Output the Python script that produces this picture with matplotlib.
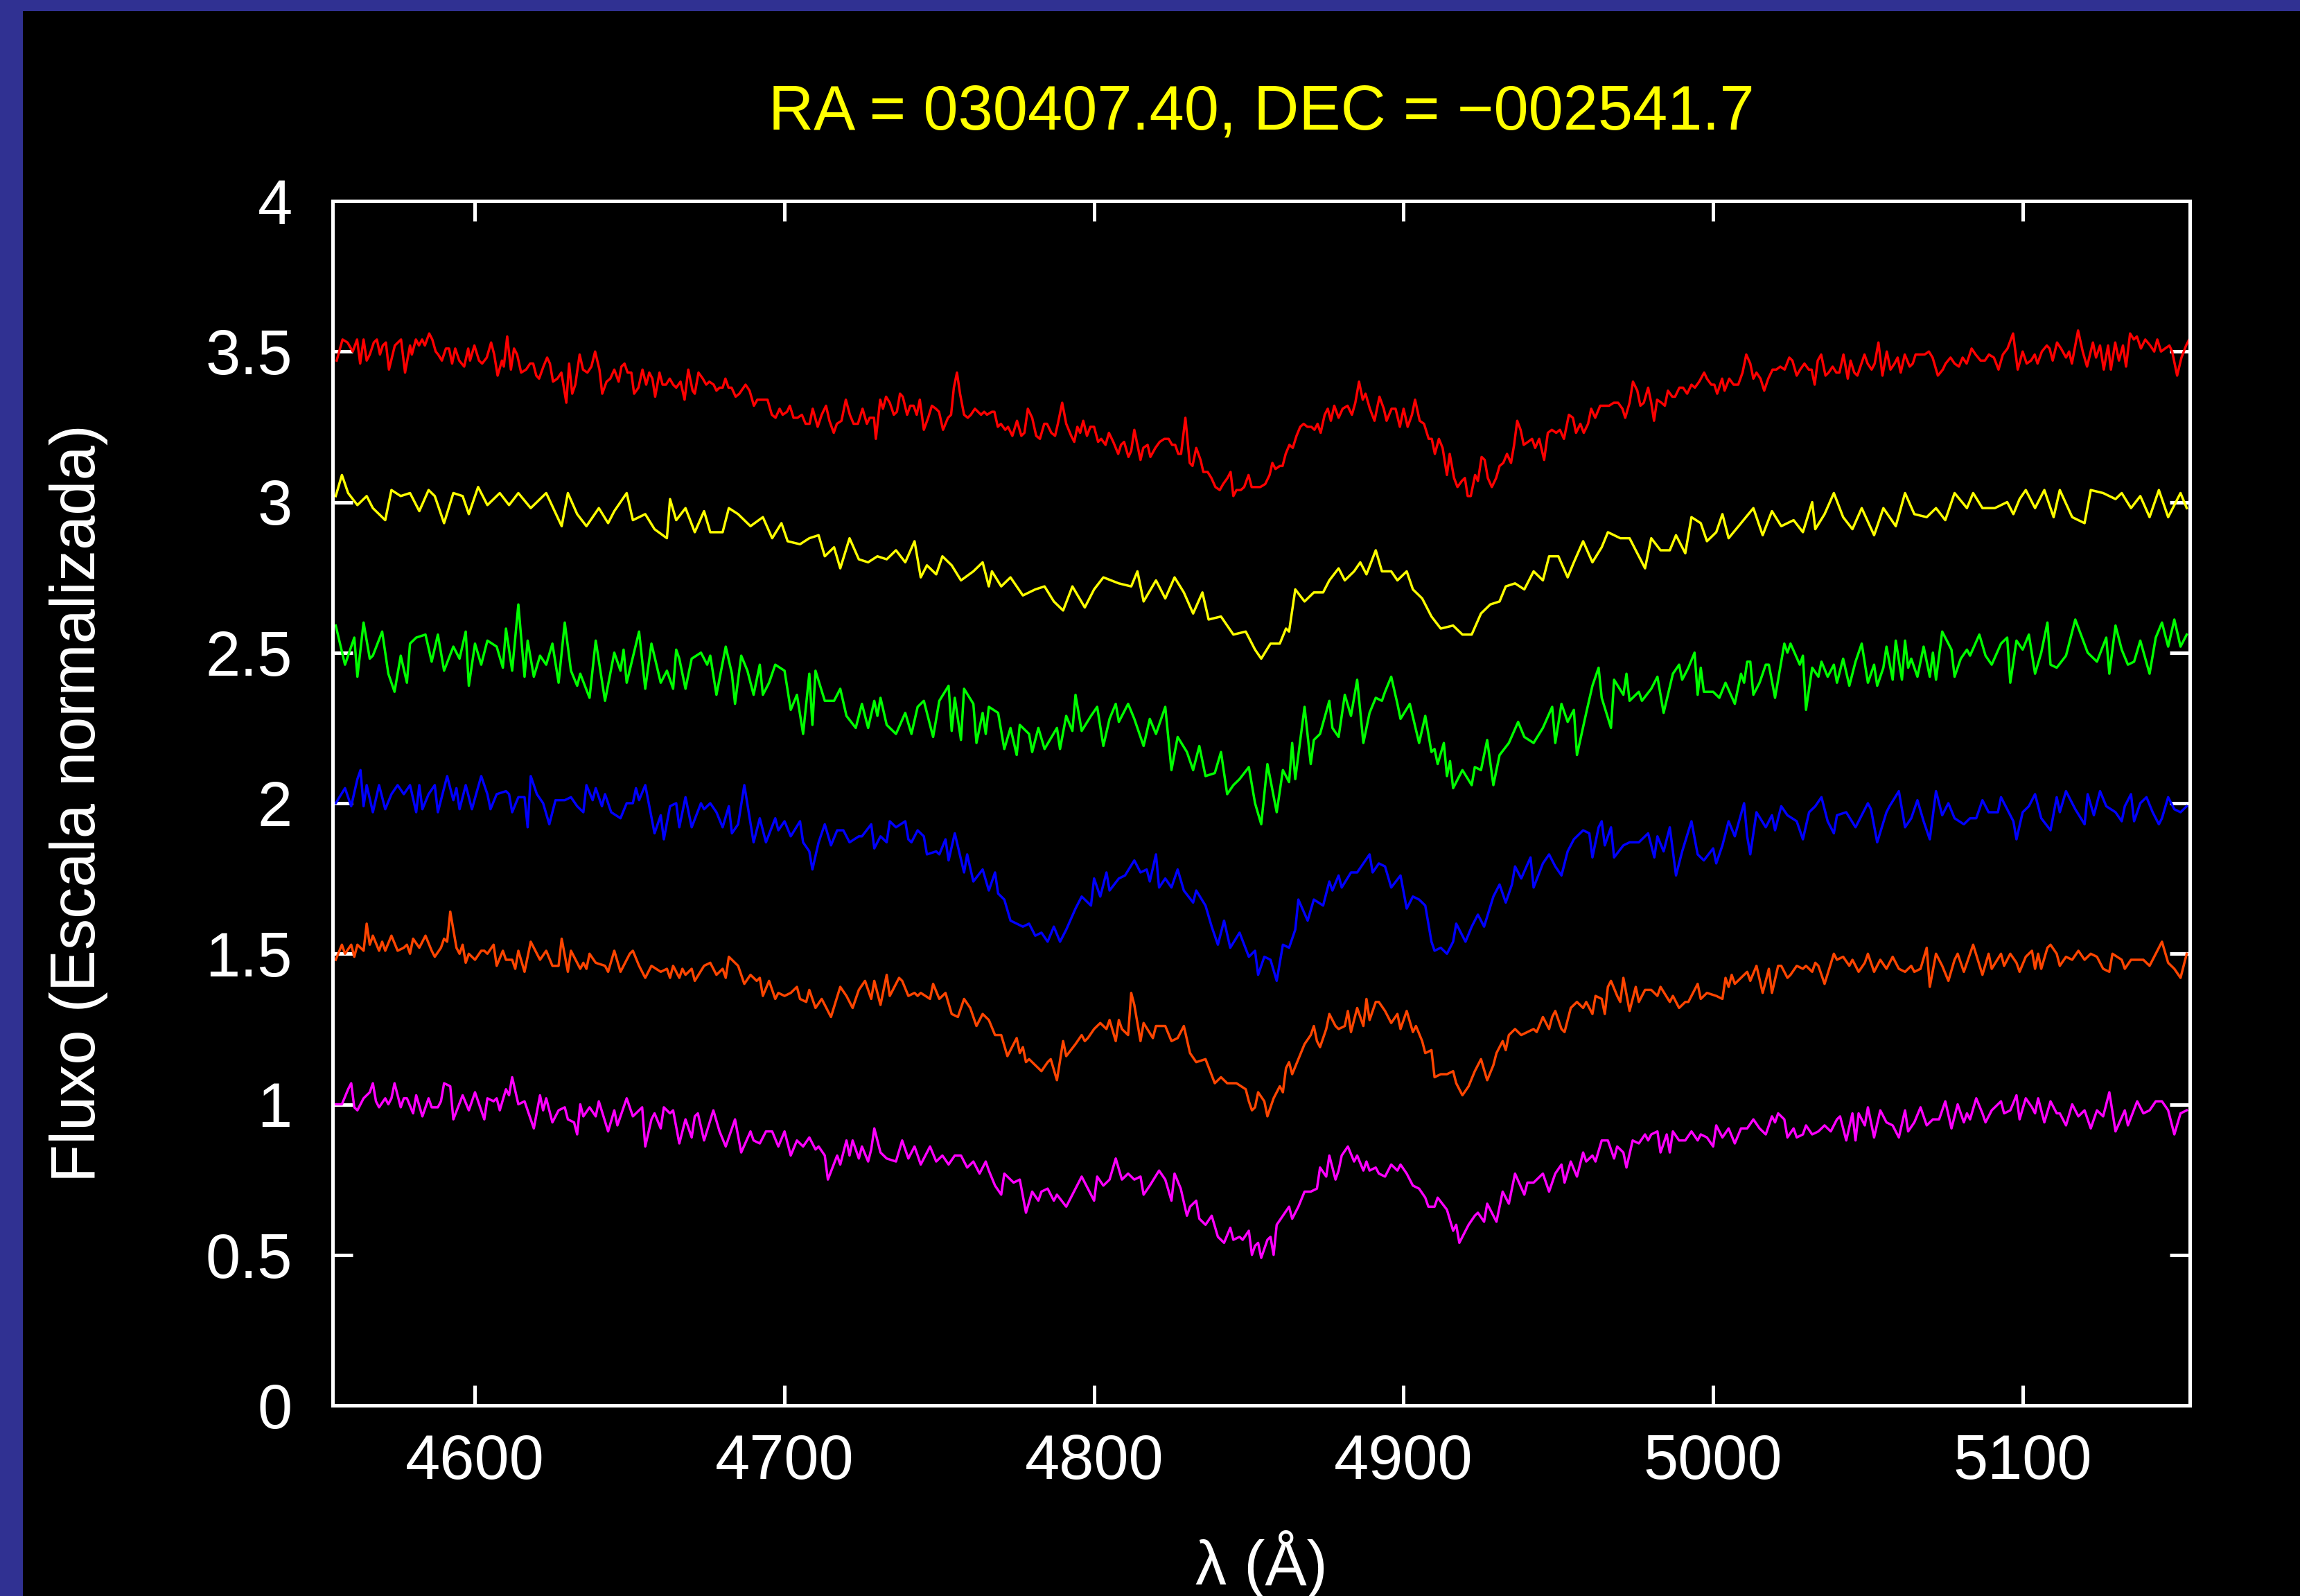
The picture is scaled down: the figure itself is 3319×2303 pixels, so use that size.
import matplotlib
matplotlib.use("Agg")
import matplotlib.pyplot as plt
from matplotlib.patches import Rectangle
from matplotlib.ticker import FormatStrFormatter, MultipleLocator

plt.rcParams['font.family'] = ['Liberation Sans', 'DejaVu Sans']

# === spectra: (wavelength [A], normalised flux) ===
red_pts = [
    (4555.3,3.47),(4557.2,3.54),(4558.8,3.53),(4560.5,3.50),(4561.9,3.54),(4562.9,3.46),(4564.0,3.54),(4565.0,3.47),
    (4566.0,3.49),(4567.3,3.53),(4568.3,3.54),(4569.3,3.49),(4570.2,3.52),(4571.2,3.53),(4572.2,3.44),(4574.1,3.52),
    (4576.1,3.54),(4577.4,3.43),(4579.0,3.52),(4579.6,3.49),(4580.9,3.54),(4581.9,3.52),(4582.9,3.54),(4583.8,3.52),
    (4585.2,3.56),(4586.2,3.54),(4587.3,3.50),(4588.1,3.49),(4589.3,3.47),(4590.6,3.51),(4591.6,3.51),(4592.6,3.46),
    (4593.6,3.51),(4594.9,3.47),(4596.5,3.45),(4597.8,3.51),(4598.4,3.47),(4599.8,3.52),(4601.3,3.47),(4602.3,3.46),
    (4603.8,3.48),(4605.2,3.53),(4606.2,3.49),(4607.3,3.42),(4608.7,3.47),(4609.3,3.45),(4610.4,3.55),(4611.6,3.44),
    (4612.6,3.51),(4613.6,3.49),(4614.9,3.43),(4616.5,3.44),(4617.8,3.46),(4618.8,3.46),(4619.8,3.42),(4620.7,3.41),
    (4622.1,3.45),(4623.3,3.48),(4624.2,3.46),(4625.2,3.40),(4626.6,3.41),(4627.9,3.43),(4629.5,3.33),(4630.4,3.46),
    (4631.4,3.36),(4632.4,3.39),(4633.8,3.49),(4634.9,3.44),(4636.3,3.43),(4637.6,3.45),(4638.8,3.50),(4640.2,3.44),
    (4641.1,3.36),(4642.5,3.40),(4643.7,3.41),(4645.0,3.44),(4646.4,3.40),(4647.3,3.45),(4648.3,3.46),(4649.3,3.43),
    (4650.5,3.43),(4651.4,3.36),(4652.8,3.38),(4654.1,3.44),(4655.3,3.39),(4656.3,3.43),(4657.3,3.41),(4658.2,3.35),
    (4659.6,3.43),(4660.6,3.39),(4661.7,3.39),(4662.9,3.41),(4664.0,3.39),(4665.0,3.38),(4666.4,3.40),(4667.7,3.34),
    (4668.9,3.44),(4670.3,3.37),(4671.0,3.36),(4672.2,3.43),(4673.6,3.41),(4674.7,3.39),(4675.7,3.40),(4677.1,3.39),
    (4678.0,3.37),(4679.0,3.38),(4680.0,3.38),(4680.9,3.41),(4681.9,3.38),(4682.9,3.38),(4684.2,3.35),(4685.4,3.36),
    (4687.4,3.39),(4688.7,3.37),(4690.1,3.32),(4691.2,3.34),(4692.6,3.34),(4694.5,3.34),(4695.9,3.29),(4697.1,3.28),
    (4698.4,3.31),(4699.4,3.29),(4700.8,3.30),(4701.7,3.32),(4702.9,3.28),(4704.2,3.28),(4705.6,3.29),(4706.8,3.26),
    (4708.1,3.26),(4709.1,3.31),(4710.7,3.25),(4712.0,3.29),(4713.4,3.32),(4714.5,3.27),(4715.9,3.23),(4716.9,3.26),
    (4718.4,3.27),(4719.8,3.34),(4721.1,3.29),(4722.3,3.26),(4723.7,3.26),(4725.2,3.31),(4726.6,3.26),(4727.5,3.28),
    (4728.9,3.28),(4729.5,3.21),(4730.9,3.34),(4731.8,3.31),(4732.8,3.35),(4734.0,3.33),(4735.3,3.29),(4736.3,3.30),
    (4737.3,3.36),(4738.2,3.35),(4739.6,3.29),(4740.6,3.32),(4741.7,3.32),(4742.7,3.29),(4743.7,3.34),(4745.0,3.24),
    (4746.4,3.28),(4747.6,3.32),(4748.9,3.31),(4749.9,3.30),(4751.2,3.24),(4752.8,3.28),(4753.8,3.29),(4754.7,3.38),
    (4755.7,3.43),(4756.7,3.36),(4758.0,3.29),(4759.2,3.28),(4760.2,3.29),(4761.5,3.31),(4762.5,3.30),(4763.5,3.29),
    (4764.5,3.30),(4765.4,3.29),(4767.0,3.30),(4767.8,3.30),(4768.9,3.25),(4769.9,3.26),(4771.3,3.24),(4772.2,3.25),
    (4773.6,3.22),(4775.1,3.27),(4776.5,3.22),(4777.5,3.23),(4778.6,3.31),(4780.0,3.28),(4781.3,3.22),(4782.5,3.21),
    (4783.9,3.26),(4784.8,3.26),(4786.2,3.23),(4787.4,3.22),(4788.3,3.26),(4789.7,3.33),(4791.0,3.26),(4792.6,3.22),
    (4793.6,3.20),(4794.6,3.25),(4795.5,3.23),(4796.5,3.27),(4797.7,3.22),(4798.8,3.25),(4800.0,3.25),(4801.3,3.20),
    (4802.3,3.21),(4803.7,3.19),(4804.8,3.23),(4806.2,3.20),(4807.8,3.16),(4808.7,3.19),(4809.7,3.20),(4811.1,3.15),
    (4812.0,3.17),(4813.0,3.24),(4814.0,3.19),(4815.0,3.14),(4815.9,3.18),(4817.3,3.19),(4818.2,3.15),(4819.8,3.18),
    (4821.2,3.20),(4822.7,3.21),(4824.1,3.21),(4825.2,3.19),(4826.2,3.19),(4827.2,3.16),(4828.1,3.16),(4829.5,3.28),
    (4830.9,3.13),(4831.8,3.12),(4833.0,3.18),(4834.4,3.14),(4835.3,3.10),(4836.7,3.10),(4837.9,3.08),(4839.2,3.05),
    (4840.6,3.04),(4841.7,3.06),(4843.1,3.08),(4844.1,3.10),(4845.0,3.02),(4846.0,3.04),(4847.4,3.04),(4848.5,3.05),
    (4849.9,3.09),(4850.9,3.05),(4851.8,3.05),(4853.7,3.05),(4855.3,3.06),(4856.7,3.09),(4857.6,3.13),(4858.6,3.11),
    (4860.0,3.12),(4860.9,3.12),(4861.9,3.16),(4863.1,3.19),(4864.2,3.18),(4865.4,3.22),(4866.6,3.25),(4867.7,3.26),
    (4868.9,3.25),(4870.2,3.25),(4871.2,3.24),(4872.2,3.26),(4873.2,3.23),(4874.5,3.29),(4875.5,3.31),(4876.5,3.27),
    (4877.6,3.32),(4879.0,3.28),(4880.3,3.31),(4881.9,3.32),(4883.3,3.29),(4884.4,3.33),(4885.6,3.40),(4886.8,3.34),
    (4887.7,3.36),(4889.1,3.31),(4890.6,3.27),(4892.2,3.35),(4893.6,3.31),(4894.5,3.27),(4896.1,3.31),(4897.4,3.31),
    (4898.8,3.25),(4900.0,3.31),(4901.3,3.25),(4902.7,3.29),(4903.7,3.34),(4905.2,3.27),(4906.6,3.26),(4908.1,3.21),
    (4909.1,3.21),(4910.1,3.16),(4911.4,3.21),(4912.6,3.18),(4914.0,3.09),(4914.9,3.16),(4916.3,3.08),(4917.4,3.05),
    (4918.8,3.07),(4919.8,3.08),(4920.7,3.02),(4921.7,3.02),(4923.1,3.09),(4924.0,3.07),(4925.2,3.15),(4926.2,3.14),
    (4927.2,3.08),(4928.5,3.05),(4929.9,3.08),(4931.0,3.12),(4932.2,3.13),(4933.4,3.16),(4934.7,3.13),(4935.7,3.19),
    (4936.7,3.27),(4937.8,3.24),(4938.8,3.19),(4940.2,3.20),(4941.5,3.21),(4942.5,3.18),(4943.8,3.21),(4945.4,3.14),
    (4946.6,3.23),(4947.9,3.24),(4949.3,3.23),(4950.5,3.24),(4951.8,3.21),(4953.4,3.29),(4954.7,3.28),(4955.7,3.23),
    (4957.1,3.26),(4958.2,3.23),(4959.6,3.26),(4960.6,3.31),(4961.9,3.28),(4963.5,3.32),(4964.8,3.32),(4966.4,3.32),
    (4967.9,3.33),(4969.3,3.33),(4970.7,3.31),(4971.6,3.28),(4973.0,3.33),(4974.1,3.40),(4975.5,3.37),(4976.5,3.32),
    (4977.6,3.33),(4979.0,3.38),(4980.0,3.33),(4980.9,3.27),(4981.9,3.34),(4983.3,3.33),(4984.4,3.32),(4985.4,3.37),
    (4986.8,3.35),(4987.7,3.35),(4989.1,3.38),(4990.3,3.38),(4991.6,3.36),(4993.0,3.39),(4994.1,3.38),(4995.5,3.40),
    (4997.1,3.43),(4998.0,3.41),(4999.4,3.39),(5000.4,3.39),(5001.3,3.36),(5002.9,3.41),(5003.7,3.37),(5005.2,3.41),
    (5006.6,3.39),(5008.1,3.39),(5009.5,3.43),(5010.7,3.49),(5012.0,3.46),(5013.0,3.41),(5014.0,3.43),(5015.3,3.41),
    (5016.5,3.37),(5017.8,3.41),(5019.2,3.44),(5020.4,3.44),(5021.7,3.45),(5023.1,3.44),(5024.6,3.48),(5025.6,3.47),
    (5027.0,3.42),(5028.1,3.44),(5029.5,3.46),(5030.9,3.44),(5031.8,3.44),(5032.8,3.39),(5033.8,3.47),(5034.9,3.49),
    (5036.3,3.42),(5037.3,3.43),(5038.6,3.45),(5039.8,3.43),(5040.8,3.43),(5042.1,3.49),(5043.5,3.41),(5044.4,3.47),
    (5045.6,3.43),(5046.6,3.42),(5047.9,3.46),(5048.9,3.49),(5049.9,3.46),(5051.2,3.44),(5052.2,3.46),(5053.4,3.53),
    (5054.7,3.42),(5056.1,3.50),(5057.3,3.44),(5058.6,3.46),(5059.6,3.48),(5060.6,3.43),(5061.9,3.49),(5063.5,3.45),
    (5064.5,3.46),(5065.4,3.49),(5067.0,3.49),(5068.3,3.49),(5069.7,3.50),(5070.9,3.48),(5072.6,3.42),(5074.2,3.44),
    (5075.1,3.46),(5076.7,3.48),(5078.0,3.46),(5079.4,3.45),(5080.6,3.48),(5081.9,3.46),(5083.5,3.51),(5084.8,3.49),
    (5086.4,3.47),(5087.8,3.47),(5089.1,3.49),(5090.7,3.48),(5092.2,3.44),(5093.6,3.49),(5095.1,3.51),(5096.9,3.56),
    (5098.4,3.44),(5100.0,3.50),(5101.3,3.46),(5102.7,3.47),(5103.9,3.49),(5104.8,3.46),(5106.2,3.50),(5107.8,3.52),
    (5108.7,3.51),(5109.7,3.47),(5111.1,3.53),(5112.4,3.51),(5114.0,3.48),(5115.0,3.50),(5115.9,3.46),(5117.9,3.57),
    (5119.4,3.50),(5120.8,3.45),(5122.7,3.53),(5123.7,3.48),(5125.0,3.52),(5126.2,3.44),(5127.6,3.52),(5128.5,3.44),
    (5129.9,3.53),(5131.1,3.47),(5132.4,3.52),(5133.4,3.45),(5134.7,3.56),(5135.9,3.54),(5136.9,3.55),(5138.2,3.51),
    (5139.6,3.54),(5141.2,3.52),(5142.5,3.50),(5143.5,3.54),(5144.7,3.50),(5146.0,3.51),(5147.4,3.52),(5148.3,3.50),
    (5149.9,3.42),(5151.3,3.48),(5152.8,3.52),(5153.8,3.54),
]

yellow_pts = [
    (4555,3.02),(4557,3.09),(4559,3.03),(4562,2.99),(4565,3.02),(4567,2.98),(4571,2.94),(4573,3.04),(4576,3.02),
    (4579,3.03),(4582,2.97),(4585,3.04),(4587,3.02),(4590,2.93),(4593,3.03),(4596,3.02),(4598,2.96),(4601,3.05),
    (4604,2.99),(4608,3.03),(4611,2.99),(4614,3.03),(4618,2.98),(4623,3.03),(4628,2.92),(4630,3.03),(4633,2.96),
    (4636,2.92),(4640,2.98),(4643,2.93),(4645,2.97),(4649,3.03),(4651,2.94),(4655,2.96),(4658,2.91),(4662,2.88),
    (4663,3.01),(4665,2.94),(4668,2.98),(4671,2.90),(4674,2.97),(4676,2.90),(4680,2.90),(4682,2.98),(4685,2.96),
    (4689,2.92),(4693,2.95),(4696,2.88),(4699,2.93),(4701,2.87),(4705,2.86),(4708,2.88),(4711,2.89),(4713,2.82),
    (4716,2.85),(4718,2.78),(4721,2.88),(4724,2.81),(4727,2.80),(4730,2.82),(4733,2.81),(4736,2.84),(4739,2.80),
    (4742,2.87),(4744,2.75),(4746,2.79),(4749,2.76),(4751,2.82),(4754,2.79),(4757,2.74),(4761,2.77),(4764,2.80),
    (4766,2.72),(4767,2.77),(4770,2.72),(4773,2.75),(4777,2.69),(4781,2.71),(4784,2.72),(4787,2.67),(4790,2.64),
    (4793,2.72),(4797,2.65),(4800,2.71),(4803,2.75),(4808,2.73),(4812,2.72),(4814,2.77),(4816,2.67),(4820,2.74),
    (4823,2.68),(4826,2.75),(4829,2.70),(4832,2.63),(4835,2.70),(4837,2.61),(4841,2.62),(4845,2.56),(4849,2.57),
    (4852,2.51),(4854,2.48),(4857,2.53),(4860,2.53),(4862,2.58),(4863,2.57),(4865,2.71),(4868,2.67),(4871,2.70),
    (4874,2.70),(4876,2.74),(4879,2.78),(4881,2.74),(4884,2.77),(4886,2.80),(4888,2.76),(4891,2.84),(4893,2.77),
    (4896,2.77),(4898,2.74),(4901,2.77),(4903,2.71),(4906,2.68),(4909,2.62),(4912,2.58),(4916,2.59),(4919,2.56),
    (4922,2.56),(4925,2.63),(4928,2.66),(4931,2.67),(4933,2.72),(4936,2.73),(4939,2.71),(4942,2.77),(4945,2.74),
    (4947,2.82),(4950,2.82),(4953,2.75),(4955,2.80),(4958,2.87),(4961,2.80),(4964,2.85),(4966,2.90),(4970,2.88),
    (4973,2.88),(4975,2.84),(4978,2.78),(4980,2.88),(4983,2.84),(4986,2.84),(4988,2.89),(4991,2.83),(4993,2.95),
    (4996,2.93),(4998,2.87),(5001,2.90),(5003,2.96),(5005,2.88),(5009,2.93),(5013,2.98),(5016,2.89),(5019,2.97),
    (5022,2.92),(5026,2.94),(5029,2.90),(5032,3.00),(5033,2.91),(5036,2.96),(5039,3.03),(5042,2.95),(5045,2.91),
    (5048,2.98),(5052,2.89),(5055,2.98),(5059,2.92),(5062,3.03),(5065,2.96),(5069,2.95),(5072,2.98),(5075,2.94),
    (5078,3.03),(5082,2.98),(5084,3.03),(5087,2.98),(5091,2.98),(5095,3.00),(5097,2.96),(5099,3.01),(5101,3.04),
    (5104,2.98),(5107,3.04),(5110,2.95),(5112,3.04),(5116,2.95),(5120,2.93),(5122,3.04),(5126,3.03),(5130,3.01),
    (5132,3.03),(5135,2.98),(5138,3.02),(5141,2.95),(5144,3.04),(5147,2.95),(5151,3.03),(5153,2.98),
]

green_pts = [
    (4555,2.59),(4558,2.46),(4561,2.55),(4562,2.42),(4564,2.60),(4566,2.48),(4567,2.49),(4570,2.57),(4572,2.43),
    (4574,2.37),(4576,2.49),(4578,2.40),(4579,2.53),(4581,2.55),(4584,2.56),(4586,2.47),(4588,2.56),(4590,2.44),
    (4593,2.52),(4595,2.48),(4597,2.57),(4598,2.39),(4600,2.53),(4602,2.46),(4604,2.54),(4607,2.52),(4609,2.45),
    (4610,2.58),(4612,2.44),(4614,2.66),(4616,2.42),(4617,2.54),(4619,2.42),(4621,2.49),(4623,2.46),(4625,2.53),
    (4627,2.40),(4629,2.60),(4631,2.44),(4633,2.39),(4634,2.43),(4637,2.35),(4639,2.54),(4642,2.34),(4645,2.50),
    (4647,2.44),(4648,2.51),(4649,2.40),(4653,2.57),(4655,2.38),(4657,2.53),(4660,2.40),(4662,2.44),(4664,2.38),
    (4665,2.51),(4666,2.48),(4668,2.38),(4670,2.48),(4673,2.50),(4675,2.46),(4676,2.49),(4678,2.36),(4681,2.52),
    (4683,2.43),(4684,2.33),(4686,2.49),(4688,2.44),(4690,2.36),(4692,2.46),(4693,2.36),(4695,2.40),(4697,2.46),
    (4700,2.44),(4702,2.31),(4704,2.36),(4706,2.23),(4708,2.43),(4709,2.26),(4710,2.44),(4713,2.34),(4716,2.34),
    (4718,2.38),(4720,2.29),(4723,2.25),(4725,2.33),(4727,2.25),(4729,2.34),(4730,2.29),(4731,2.35),(4733,2.26),
    (4736,2.23),(4739,2.30),(4741,2.23),(4743,2.32),(4745,2.34),(4748,2.22),(4750,2.34),(4753,2.39),(4754,2.24),
    (4755,2.35),(4757,2.21),(4758,2.38),(4761,2.33),(4762,2.20),(4764,2.30),(4765,2.23),(4766,2.32),(4769,2.30),
    (4771,2.18),(4773,2.25),(4775,2.16),(4776,2.26),(4779,2.23),(4780,2.17),(4782,2.25),(4784,2.18),(4788,2.25),
    (4789,2.18),(4791,2.29),(4793,2.24),(4794,2.36),(4796,2.24),(4799,2.29),(4801,2.32),(4803,2.19),(4805,2.28),
    (4807,2.33),(4808,2.27),(4811,2.33),(4813,2.28),(4816,2.19),(4818,2.28),(4820,2.23),(4823,2.32),(4825,2.11),
    (4827,2.22),(4830,2.17),(4832,2.11),(4834,2.19),(4836,2.09),(4839,2.10),(4841,2.17),(4843,2.03),(4845,2.06),
    (4847,2.08),(4850,2.12),(4852,2.00),(4854,1.93),(4856,2.13),(4859,1.97),(4861,2.11),(4863,2.07),(4864,2.20),
    (4865,2.08),(4868,2.32),(4870,2.13),(4871,2.21),(4873,2.23),(4876,2.34),(4877,2.25),(4879,2.22),(4881,2.36),
    (4883,2.29),(4885,2.41),(4887,2.20),(4889,2.30),(4891,2.35),(4893,2.34),(4894,2.37),(4896,2.42),(4898,2.33),
    (4899,2.28),(4902,2.33),(4905,2.20),(4907,2.29),(4909,2.17),(4910,2.18),(4911,2.13),(4913,2.20),(4914,2.09),
    (4915,2.14),(4916,2.05),(4919,2.11),(4922,2.06),(4923,2.12),(4925,2.11),(4927,2.21),(4929,2.06),(4931,2.16),
    (4934,2.20),(4937,2.27),(4939,2.22),(4942,2.20),(4945,2.25),(4948,2.32),(4949,2.20),(4951,2.33),(4953,2.27),
    (4955,2.31),(4956,2.16),(4959,2.30),(4961,2.39),(4963,2.45),(4964,2.35),(4967,2.25),(4968,2.41),(4971,2.36),
    (4972,2.43),(4973,2.34),(4976,2.37),(4977,2.34),(4980,2.38),(4982,2.42),(4984,2.30),(4987,2.43),(4989,2.46),
    (4990,2.41),(4992,2.45),(4994,2.50),(4995,2.36),(4996,2.45),(4997,2.37),(5000,2.37),(5002,2.35),(5004,2.40),
    (5007,2.33),(5009,2.43),(5010,2.40),(5011,2.47),(5012,2.47),(5013,2.36),(5015,2.40),(5017,2.46),(5018,2.46),
    (5020,2.35),(5023,2.53),(5024,2.50),(5025,2.53),(5028,2.46),(5029,2.49),(5030,2.31),(5032,2.45),(5034,2.42),
    (5035,2.47),(5037,2.42),(5039,2.46),(5040,2.40),(5042,2.48),(5044,2.39),(5046,2.47),(5048,2.53),(5050,2.40),
    (5052,2.46),(5053,2.39),(5055,2.45),(5056,2.52),(5058,2.41),(5059,2.54),(5061,2.41),(5062,2.54),(5063,2.45),
    (5064,2.48),(5066,2.42),(5068,2.52),(5070,2.42),(5071,2.50),(5072,2.41),(5074,2.57),(5077,2.51),(5078,2.42),
    (5080,2.48),(5082,2.51),(5083,2.49),(5086,2.56),(5088,2.49),(5090,2.46),(5093,2.53),(5095,2.55),(5096,2.40),
    (5098,2.54),(5100,2.51),(5102,2.56),(5104,2.43),(5106,2.50),(5108,2.60),(5109,2.46),(5111,2.45),(5114,2.49),
    (5117,2.61),(5121,2.50),(5124,2.47),(5127,2.55),(5128,2.43),(5130,2.59),(5132,2.51),(5134,2.46),(5136,2.47),
    (5138,2.54),(5141,2.43),(5143,2.55),(5145,2.60),(5147,2.52),(5149,2.61),(5151,2.52),(5153,2.56),
]

blue_pts = [
    (4555,2.00),(4558,2.05),(4560,1.99),(4562,2.08),(4563,2.11),(4564,1.99),(4565,2.06),(4567,1.97),(4569,2.06),
    (4571,1.98),(4573,2.03),(4575,2.06),(4577,2.03),(4579,2.06),(4581,1.97),(4582,2.06),(4583,1.98),(4585,2.03),
    (4587,2.06),(4588,1.97),(4591,2.09),(4593,2.01),(4594,2.05),(4595,1.98),(4597,2.06),(4599,1.98),(4602,2.09),
    (4604,2.03),(4605,1.98),(4607,2.03),(4610,2.04),(4611,2.03),(4612,1.97),(4614,2.02),(4616,2.02),(4617,1.92),
    (4618,2.09),(4620,2.03),(4622,2.00),(4624,1.93),(4626,2.01),(4629,2.01),(4631,2.02),(4633,1.99),(4635,1.97),
    (4636,2.06),(4638,2.01),(4639,2.05),(4641,1.99),(4642,2.03),(4644,1.97),(4647,1.95),(4649,2.00),(4651,2.00),
    (4652,2.05),(4653,2.01),(4655,2.06),(4658,1.90),(4660,1.96),(4661,1.88),(4663,1.99),(4665,2.00),(4666,1.92),
    (4668,2.02),(4670,1.92),(4673,2.00),(4674,1.98),(4676,2.00),(4678,1.97),(4680,1.92),(4682,1.99),(4683,1.90),
    (4685,1.93),(4687,2.06),(4690,1.87),(4692,1.95),(4694,1.87),(4697,1.95),(4698,1.91),(4700,1.94),(4702,1.89),
    (4705,1.94),(4706,1.87),(4708,1.84),(4709,1.78),(4711,1.87),(4713,1.93),(4715,1.86),(4717,1.91),(4719,1.91),
    (4721,1.87),(4724,1.89),(4725,1.89),(4728,1.93),(4729,1.85),(4731,1.89),(4733,1.87),(4734,1.94),(4736,1.92),
    (4739,1.94),(4740,1.88),(4741,1.87),(4743,1.91),(4745,1.89),(4746,1.83),(4749,1.84),(4750,1.83),(4752,1.88),
    (4753,1.81),(4755,1.90),(4758,1.77),(4759,1.83),(4761,1.74),(4764,1.78),(4766,1.71),(4768,1.77),(4769,1.70),
    (4771,1.68),(4773,1.61),(4775,1.60),(4777,1.59),(4779,1.60),(4781,1.56),(4783,1.57),(4785,1.54),(4787,1.59),
    (4789,1.54),(4791,1.58),(4794,1.65),(4796,1.69),(4799,1.66),(4800,1.75),(4802,1.69),(4804,1.77),(4805,1.71),
    (4808,1.75),(4810,1.76),(4813,1.81),(4815,1.77),(4817,1.78),(4818,1.74),(4820,1.83),(4821,1.72),(4823,1.75),
    (4825,1.72),(4827,1.78),(4829,1.71),(4832,1.67),(4833,1.71),(4836,1.66),(4838,1.59),(4840,1.53),(4842,1.61),
    (4844,1.52),(4847,1.57),(4850,1.49),(4852,1.51),(4853,1.43),(4855,1.49),(4857,1.48),(4859,1.41),(4861,1.53),
    (4863,1.52),(4865,1.58),(4866,1.68),(4869,1.61),(4871,1.68),(4874,1.66),(4876,1.74),(4877,1.71),(4879,1.76),
    (4880,1.72),(4883,1.77),(4885,1.77),(4887,1.80),(4889,1.83),(4890,1.77),(4892,1.80),(4894,1.79),(4896,1.72),
    (4899,1.76),(4901,1.65),(4903,1.69),(4905,1.68),(4907,1.66),(4909,1.54),(4910,1.51),(4912,1.52),(4914,1.50),
    (4916,1.54),(4917,1.60),(4920,1.54),(4922,1.59),(4924,1.63),(4926,1.59),(4929,1.69),(4931,1.73),(4933,1.67),
    (4935,1.73),(4936,1.79),(4938,1.75),(4941,1.82),(4942,1.72),(4945,1.80),(4947,1.83),(4949,1.79),(4951,1.76),
    (4953,1.84),(4955,1.88),(4958,1.91),(4960,1.90),(4961,1.82),(4963,1.92),(4964,1.94),(4965,1.86),(4967,1.92),
    (4968,1.82),(4971,1.86),(4973,1.87),(4976,1.87),(4979,1.90),(4981,1.82),(4982,1.89),(4984,1.84),(4986,1.92),
    (4988,1.76),(4990,1.84),(4993,1.94),(4995,1.83),(4997,1.81),(5000,1.85),(5001,1.80),(5003,1.86),(5005,1.94),
    (5007,1.89),(5010,2.00),(5011,1.89),(5012,1.83),(5014,1.97),(5017,1.92),(5019,1.96),(5020,1.91),(5022,1.99),
    (5024,1.96),(5027,1.94),(5029,1.88),(5031,1.97),(5033,1.99),(5035,2.02),(5037,1.94),(5039,1.90),(5040,1.96),
    (5043,1.97),(5046,1.92),(5050,2.00),(5051,1.98),(5053,1.87),(5056,1.97),(5057,1.99),(5060,2.04),(5062,1.92),
    (5064,1.95),(5066,2.01),(5068,1.94),(5070,1.88),(5072,2.04),(5074,1.96),(5076,2.00),(5078,1.95),(5081,1.93),
    (5083,1.95),(5085,1.95),(5087,2.01),(5089,1.97),(5092,1.97),(5093,2.02),(5095,1.98),(5097,1.94),(5098,1.88),
    (5100,1.97),(5102,1.99),(5104,2.03),(5106,1.95),(5109,1.91),(5111,2.02),(5112,1.97),(5114,2.04),(5117,1.98),
    (5120,1.93),(5121,2.03),(5123,1.96),(5125,2.04),(5127,1.99),(5130,1.97),(5132,1.94),(5133,1.99),(5135,2.03),
    (5136,1.94),(5138,2.00),(5140,2.02),(5142,1.97),(5144,1.93),(5145,1.95),(5147,2.02),(5149,1.98),(5151,1.97),
    (5153,1.99),
]

orange_pts = [
    (4555,1.48),(4557,1.53),(4558,1.50),(4560,1.53),(4561,1.49),(4562,1.53),(4564,1.51),(4565,1.60),(4566,1.53),
    (4567,1.56),(4569,1.51),(4570,1.54),(4571,1.51),(4573,1.56),(4575,1.51),(4577,1.52),(4578,1.53),(4579,1.50),
    (4580,1.55),(4582,1.52),(4584,1.56),(4586,1.51),(4587,1.49),(4589,1.52),(4590,1.55),(4591,1.54),(4592,1.64),
    (4594,1.52),(4595,1.50),(4596,1.53),(4597,1.47),(4598,1.50),(4600,1.48),(4602,1.51),(4603,1.51),(4604,1.50),
    (4606,1.53),(4607,1.46),(4609,1.51),(4610,1.48),(4612,1.48),(4613,1.45),(4614,1.51),(4616,1.44),(4618,1.54),
    (4620,1.50),(4621,1.48),(4623,1.51),(4625,1.46),(4627,1.46),(4628,1.55),(4630,1.44),(4631,1.51),(4634,1.45),
    (4635,1.47),(4636,1.45),(4637,1.50),(4639,1.47),(4642,1.46),(4643,1.44),(4645,1.51),(4647,1.44),(4650,1.50),
    (4651,1.51),(4653,1.46),(4655,1.42),(4657,1.46),(4660,1.44),(4662,1.45),(4663,1.42),(4664,1.46),(4666,1.42),
    (4667,1.45),(4668,1.43),(4670,1.45),(4671,1.41),(4674,1.46),(4676,1.47),(4678,1.43),(4680,1.45),(4681,1.42),
    (4682,1.49),(4685,1.46),(4687,1.40),(4689,1.43),(4691,1.41),(4692,1.42),(4693,1.36),(4695,1.41),(4697,1.35),
    (4698,1.37),(4700,1.36),(4702,1.37),(4704,1.39),(4705,1.35),(4707,1.34),(4708,1.38),(4710,1.32),(4712,1.35),
    (4713,1.33),(4715,1.29),(4718,1.39),(4720,1.36),(4722,1.32),(4724,1.38),(4726,1.41),(4728,1.35),(4729,1.41),
    (4731,1.33),(4733,1.43),(4734,1.36),(4737,1.42),(4738,1.41),(4740,1.36),(4742,1.37),(4743,1.36),(4744,1.37),
    (4747,1.35),(4748,1.40),(4750,1.35),(4752,1.37),(4754,1.30),(4756,1.29),(4758,1.35),(4760,1.32),(4762,1.26),
    (4764,1.30),(4766,1.28),(4768,1.23),(4770,1.23),(4772,1.16),(4775,1.22),(4776,1.17),(4777,1.19),(4778,1.14),
    (4779,1.15),(4781,1.13),(4783,1.11),(4785,1.14),(4786,1.15),(4788,1.08),(4790,1.21),(4791,1.16),(4794,1.20),
    (4796,1.23),(4797,1.21),(4798,1.22),(4800,1.25),(4802,1.27),(4804,1.25),(4805,1.28),(4807,1.21),(4808,1.28),
    (4809,1.25),(4811,1.23),(4812,1.37),(4813,1.33),(4815,1.21),(4816,1.27),(4819,1.22),(4820,1.26),(4823,1.26),
    (4825,1.21),(4827,1.22),(4829,1.26),(4831,1.17),(4833,1.14),(4836,1.15),(4839,1.07),(4841,1.09),(4843,1.07),
    (4846,1.07),(4849,1.05),(4850,1.01),(4851,0.98),(4852,0.99),(4853,1.04),(4855,1.01),(4856,0.96),(4858,1.02),
    (4860,1.06),(4861,1.04),(4862,1.12),(4863,1.14),(4864,1.10),(4866,1.15),(4868,1.20),(4870,1.23),(4871,1.26),
    (4872,1.21),(4873,1.19),(4875,1.25),(4876,1.30),(4878,1.26),(4879,1.25),(4881,1.26),(4882,1.31),(4883,1.24),
    (4885,1.32),(4887,1.26),(4888,1.35),(4889,1.28),(4891,1.34),(4892,1.34),(4894,1.31),(4896,1.27),(4898,1.30),
    (4899,1.25),(4901,1.31),(4903,1.24),(4904,1.26),(4906,1.21),(4907,1.17),(4909,1.18),(4910,1.09),(4912,1.10),
    (4914,1.10),(4916,1.11),(4917,1.07),(4919,1.03),(4921,1.06),(4923,1.11),(4925,1.15),(4927,1.08),(4929,1.13),
    (4930,1.17),(4932,1.21),(4933,1.18),(4934,1.23),(4936,1.25),(4938,1.23),(4940,1.24),(4942,1.25),(4943,1.24),
    (4945,1.29),(4947,1.25),(4948,1.29),(4949,1.31),(4951,1.25),(4952,1.24),(4954,1.32),(4956,1.34),(4958,1.32),
    (4959,1.34),(4961,1.30),(4962,1.36),(4964,1.35),(4965,1.30),(4966,1.39),(4967,1.41),(4969,1.36),(4970,1.34),
    (4971,1.42),(4973,1.31),(4975,1.39),(4976,1.34),(4978,1.38),(4980,1.38),(4982,1.36),(4983,1.39),(4986,1.34),
    (4987,1.36),(4989,1.32),(4991,1.34),(4992,1.34),(4995,1.40),(4996,1.35),(4998,1.37),(5001,1.36),(5003,1.35),
    (5004,1.42),(5005,1.39),(5006,1.43),(5007,1.40),(5009,1.42),(5011,1.44),(5012,1.41),(5014,1.46),(5016,1.37),
    (5018,1.45),(5019,1.37),(5021,1.46),(5022,1.46),(5024,1.42),(5025,1.43),(5027,1.46),(5029,1.45),(5030,1.46),
    (5032,1.44),(5033,1.47),(5034,1.46),(5036,1.40),(5039,1.50),(5040,1.48),(5042,1.49),(5044,1.46),(5045,1.48),
    (5047,1.44),(5049,1.47),(5050,1.50),(5052,1.44),(5054,1.48),(5056,1.45),(5058,1.49),(5060,1.45),(5062,1.44),
    (5064,1.46),(5065,1.44),(5067,1.45),(5069,1.52),(5070,1.39),(5072,1.50),(5074,1.46),(5076,1.41),(5078,1.48),
    (5079,1.50),(5081,1.44),(5084,1.53),(5087,1.43),(5089,1.50),(5090,1.45),(5093,1.50),(5094,1.46),(5096,1.50),
    (5098,1.47),(5099,1.44),(5101,1.49),(5103,1.51),(5104,1.45),(5105,1.50),(5106,1.45),(5108,1.52),(5109,1.53),
    (5111,1.50),(5112,1.46),(5114,1.49),(5116,1.48),(5118,1.51),(5120,1.48),(5122,1.50),(5124,1.49),(5126,1.45),
    (5128,1.44),(5129,1.50),(5132,1.48),(5133,1.45),(5135,1.48),(5137,1.48),(5139,1.48),(5141,1.46),(5143,1.50),
    (5145,1.54),(5147,1.47),(5149,1.45),(5151,1.42),(5153,1.50),
]

magenta_pts = [
    (4555,1.00),(4557,1.00),(4559,1.05),(4560,1.07),(4561,0.99),(4562,0.98),(4564,1.02),(4566,1.04),(4567,1.07),
    (4568,1.01),(4569,0.99),(4571,1.02),(4572,1.00),(4573,1.02),(4574,1.07),(4576,0.99),(4577,1.02),(4578,1.02),
    (4580,0.97),(4581,1.03),(4583,0.96),(4585,1.02),(4586,0.99),(4588,0.99),(4589,1.01),(4590,1.07),(4592,1.06),
    (4593,0.95),(4596,1.03),(4598,0.98),(4600,1.04),(4603,0.95),(4604,1.02),(4606,1.01),(4607,1.02),(4608,0.98),
    (4610,1.05),(4611,1.03),(4612,1.09),(4614,1.00),(4616,1.01),(4618,0.95),(4619,0.92),(4621,1.03),(4622,0.98),
    (4623,1.02),(4625,0.94),(4627,0.98),(4629,0.99),(4630,0.95),(4632,0.94),(4633,0.90),(4634,1.00),(4635,0.96),
    (4637,0.99),(4639,0.96),(4640,1.01),(4643,0.91),(4645,0.98),(4646,0.93),(4649,1.02),(4651,0.96),(4652,0.97),
    (4654,0.99),(4655,0.86),(4657,0.95),(4658,0.97),(4660,0.92),(4661,0.99),(4663,0.97),(4664,0.98),(4666,0.87),
    (4668,0.95),(4670,0.89),(4671,0.96),(4672,0.97),(4674,0.88),(4677,0.98),(4679,0.91),(4681,0.86),(4684,0.95),
    (4686,0.84),(4689,0.91),(4690,0.88),(4692,0.87),(4694,0.91),(4696,0.91),(4698,0.86),(4700,0.91),(4702,0.83),
    (4704,0.88),(4706,0.86),(4708,0.89),(4710,0.85),(4711,0.86),(4713,0.83),(4714,0.75),(4717,0.83),(4718,0.80),
    (4720,0.88),(4721,0.83),(4722,0.88),(4724,0.82),(4725,0.86),(4727,0.81),(4728,0.85),(4729,0.92),(4731,0.84),
    (4733,0.82),(4736,0.81),(4738,0.88),(4740,0.82),(4742,0.86),(4744,0.80),(4747,0.86),(4749,0.81),(4751,0.83),
    (4753,0.80),(4755,0.83),(4757,0.83),(4759,0.79),(4761,0.81),(4763,0.77),(4765,0.81),(4766,0.78),(4768,0.73),
    (4770,0.70),(4771,0.77),(4774,0.74),(4776,0.75),(4778,0.64),(4780,0.71),(4782,0.68),(4783,0.71),(4785,0.72),
    (4787,0.68),(4788,0.70),(4791,0.66),(4794,0.72),(4796,0.76),(4798,0.72),(4800,0.68),(4801,0.76),(4803,0.73),
    (4805,0.75),(4807,0.82),(4809,0.75),(4811,0.77),(4813,0.75),(4815,0.76),(4816,0.70),(4818,0.73),(4821,0.78),
    (4823,0.75),(4825,0.68),(4826,0.77),(4828,0.72),(4830,0.63),(4831,0.66),(4833,0.68),(4834,0.62),(4836,0.60),
    (4838,0.63),(4840,0.56),(4842,0.54),(4844,0.59),(4845,0.55),(4847,0.56),(4848,0.55),(4850,0.58),(4851,0.50),
    (4852,0.53),(4853,0.54),(4854,0.49),(4856,0.55),(4857,0.56),(4858,0.50),(4859,0.60),(4861,0.63),(4863,0.66),
    (4864,0.62),(4866,0.66),(4868,0.71),(4870,0.71),(4872,0.72),(4873,0.79),(4875,0.76),(4876,0.83),(4878,0.75),
    (4879,0.78),(4880,0.83),(4882,0.86),(4884,0.81),(4885,0.83),(4887,0.78),(4888,0.81),(4889,0.78),(4891,0.79),
    (4892,0.77),(4894,0.76),(4896,0.80),(4898,0.78),(4899,0.80),(4901,0.77),(4903,0.73),(4905,0.72),(4907,0.69),
    (4908,0.66),(4910,0.66),(4911,0.69),(4914,0.65),(4916,0.58),(4917,0.60),(4918,0.54),(4921,0.60),(4923,0.63),
    (4924,0.64),(4926,0.61),(4927,0.67),(4930,0.61),(4932,0.71),(4934,0.67),(4936,0.77),(4939,0.70),(4940,0.74),
    (4942,0.74),(4943,0.75),(4945,0.77),(4947,0.71),(4949,0.77),(4951,0.80),(4952,0.74),(4954,0.81),(4956,0.76),
    (4958,0.84),(4959,0.81),(4961,0.83),(4962,0.81),(4964,0.88),(4966,0.88),(4968,0.82),(4969,0.86),(4971,0.84),
    (4972,0.79),(4974,0.88),(4976,0.87),(4978,0.90),(4979,0.88),(4980,0.90),(4982,0.91),(4983,0.84),(4985,0.90),
    (4986,0.84),(4987,0.91),(4989,0.88),(4991,0.88),(4993,0.91),(4995,0.88),(4996,0.90),(4998,0.89),(5000,0.86),
    (5001,0.93),(5003,0.89),(5005,0.92),(5007,0.87),(5009,0.92),(5011,0.92),(5013,0.95),(5015,0.92),(5017,0.90),
    (5019,0.96),(5020,0.94),(5021,0.97),(5023,0.95),(5024,0.89),(5026,0.92),(5027,0.89),(5029,0.90),(5030,0.93),
    (5032,0.90),(5034,0.91),(5036,0.93),(5038,0.91),(5040,0.95),(5041,0.96),(5043,0.88),(5045,0.97),(5046,0.88),
    (5047,0.97),(5049,0.93),(5050,0.99),(5052,0.89),(5054,0.98),(5056,0.94),(5058,0.93),(5060,0.89),(5062,0.98),
    (5063,0.91),(5065,0.94),(5067,0.99),(5069,0.93),(5071,0.95),(5073,0.95),(5075,1.01),(5077,0.92),(5079,1.00),
    (5081,0.94),(5082,0.97),(5083,0.95),(5085,1.02),(5087,0.97),(5088,0.94),(5090,0.98),(5093,1.01),(5094,0.97),
    (5096,0.98),(5098,1.03),(5099,0.95),(5101,1.02),(5103,0.99),(5104,0.97),(5105,1.02),(5107,0.94),(5109,1.01),
    (5111,0.97),(5112,0.97),(5114,0.93),(5116,1.00),(5118,0.96),(5120,0.98),(5122,0.92),(5124,0.98),(5126,0.96),
    (5128,1.04),(5130,0.91),(5133,0.98),(5134,0.93),(5137,1.01),(5139,0.97),(5141,0.98),(5143,1.01),(5145,1.01),
    (5147,0.98),(5149,0.90),(5151,0.97),(5153,0.98),
]

series = [
    (red_pts, '#ff0000'),
    (yellow_pts, '#ffff00'),
    (green_pts, '#00ff00'),
    (blue_pts, '#0000ff'),
    (orange_pts, '#ff4500'),
    (magenta_pts, '#ff00ff'),
]

title = 'RA = 030407.40, DEC = \u2212002541.7'
x_ticks = [4600, 4700, 4800, 4900, 5000, 5100]

# === figure (3319 x 2303 px) ===
W, H = 3319, 2303
fig = plt.figure(figsize=(W / 100, H / 100), dpi=100, facecolor='black')
# blue frame on the left and top edge
fig.patches.append(Rectangle((0, 0), 33 / W, 1, transform=fig.transFigure,
                             facecolor='#303192', edgecolor='none', zorder=0))
fig.patches.append(Rectangle((0, 1 - 16 / H), 1, 16 / H, transform=fig.transFigure,
                             facecolor='#303192', edgecolor='none', zorder=0))

ax = fig.add_axes([480 / W, 1 - 2028 / H, 2680 / W, 1738 / H])
ax.set_facecolor('black')

for pts, color in series:
    wl, flux = zip(*pts)
    ax.plot(wl, flux, color=color, lw=2.5)

ax.set_xlim(4554, 5154)
ax.set_ylim(0, 4)
ax.set_xticks(x_ticks)
ax.yaxis.set_major_locator(MultipleLocator(0.5))
ax.yaxis.set_major_formatter(FormatStrFormatter('%g'))
ax.tick_params(direction='in', length=21, width=3.6, colors='white',
               labelsize=65, top=True, right=True)
ax.tick_params(axis='x', pad=29)
ax.tick_params(axis='y', pad=42)
for s in ax.spines.values():
    s.set_color('white')
    s.set_linewidth(3.6)

ax.text(0.5, 1842 / 1738, title, transform=ax.transAxes, ha='center',
        va='baseline', color='#ffff00', fontsize=65)

ax.set_xlabel('\u03bb (\u00c5)', color='white', fontsize=65)
ax.xaxis.label.set_verticalalignment('baseline')
ax.xaxis.set_label_coords(0.5, -259 / 1738)
ax.set_ylabel('Fluxo (Escala normalizada)', color='white', fontsize=65)
ax.yaxis.set_label_coords(-324 / 2680, 0.5)

fig.savefig('out.png', dpi=100, facecolor='black')
